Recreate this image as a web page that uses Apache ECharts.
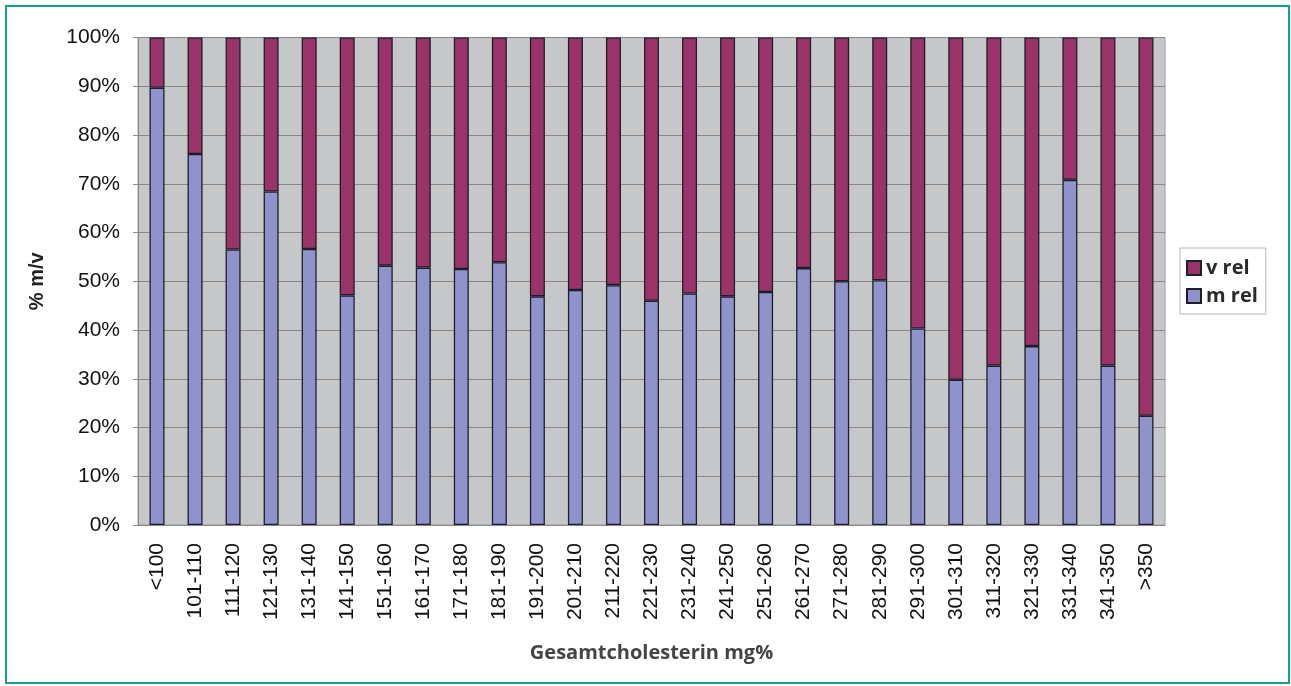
<!DOCTYPE html>
<html>
<head>
<meta charset="utf-8">
<script src="https://cdn.jsdelivr.net/npm/echarts@6/dist/echarts.min.js"></script>
<style>
  html, body { margin: 0; padding: 0; background: #fff; }
  #frame {
    position: absolute; left: 5px; top: 5px;
    width: 1281px; height: 675px;
    border: 2px solid #16a08f;
  }
  #chart { position: absolute; left: 0; top: 0; width: 1291px; height: 686px; }
</style>
</head>
<body>
<div id="frame"></div>
<div id="chart"></div>
<script>
// Kategorien (Gesamtcholesterin mg%)
const categories = ['<100', '101-110', '111-120', '121-130', '131-140', '141-150', '151-160',
  '161-170', '171-180', '181-190', '191-200', '201-210', '211-220', '221-230', '231-240',
  '241-250', '251-260', '261-270', '271-280', '281-290', '291-300', '301-310', '311-320',
  '321-330', '331-340', '341-350', '>350']
// m rel (unten, blau)
const mRel = [89.7, 76.1, 56.5, 68.4, 56.6, 47.1, 53.2, 52.8, 52.5, 53.9, 46.9, 48.2, 49.2, 46.0,
  47.5, 46.9, 47.8, 52.7, 50.0, 50.2, 40.3, 29.8, 32.7, 36.7, 70.8, 32.7, 22.4]
// v rel (oben, magenta)
const vRel = [10.3, 23.9, 43.5, 31.6, 43.4, 52.9, 46.8, 47.2, 47.5, 46.1, 53.1, 51.8, 50.8, 54.0,
  52.5, 53.1, 52.2, 47.3, 50.0, 49.8, 59.7, 70.2, 67.3, 63.3, 29.2, 67.3, 77.6]
const yTicks = [0, 10, 20, 30, 40, 50, 60, 70, 80, 90, 100]

const chart = echarts.init(document.getElementById('chart'))
const labelFont = 'Liberation Sans, Arial, sans-serif'
chart.setOption({
  animation: false,
  grid: {
    left: 138,
    right: 126,
    top: 37.5,
    bottom: 161,
    show: true,
    backgroundColor: '#c5c7c9',
    borderColor: '#9a9a9a',
    borderWidth: 1
  },
  legend: {
    orient: 'vertical',
    left: 1180,
    top: 248,
    data: ['v rel', 'm rel'],
    icon: 'rect',
    itemWidth: 14,
    itemHeight: 14,
    itemGap: 8,
    padding: [10, 8, 8, 6],
    borderColor: '#b8b8b8',
    borderWidth: 1,
    textStyle: {
      fontFamily: 'Open Sans, sans-serif',
      fontWeight: 'bold',
      fontSize: 20,
      color: '#2a2a2a'
    }
  },
  xAxis: {
    type: 'category',
    data: categories,
    name: 'Gesamtcholesterin mg%',
    nameLocation: 'middle',
    nameGap: 118,
    nameTextStyle: {
      fontFamily: 'Open Sans, sans-serif',
      fontWeight: 'bold',
      fontSize: 20,
      color: '#444'
    },
    axisLine: { lineStyle: { color: '#8a8a8a' } },
    axisTick: { length: 7, lineStyle: { color: '#8a8a8a' } },
    axisLabel: {
      rotate: 90,
      margin: 18,
      interval: 0,
      fontFamily: labelFont,
      fontSize: 21,
      color: '#111'
    }
  },
  yAxis: {
    type: 'value',
    min: yTicks[0],
    max: yTicks[yTicks.length - 1],
    interval: 10,
    name: '% m/v',
    nameLocation: 'middle',
    nameGap: 91,
    nameTextStyle: {
      fontFamily: labelFont,
      fontWeight: 'bold',
      fontSize: 20,
      color: '#222'
    },
    axisLine: { show: true, lineStyle: { color: '#8a8a8a' } },
    axisTick: { show: true, length: 5, lineStyle: { color: '#8a8a8a' } },
    axisLabel: {
      margin: 18,
      formatter: '{value}%',
      fontFamily: labelFont,
      fontSize: 21,
      color: '#111'
    },
    splitLine: { lineStyle: { color: '#888', width: 1 } }
  },
  series: [
    {
      name: 'm rel',
      type: 'bar',
      stack: 'rel',
      data: mRel,
      barWidth: 15,
      itemStyle: { color: '#8e93cc', borderColor: '#1e1e2a', borderWidth: 1.3 }
    },
    {
      name: 'v rel',
      type: 'bar',
      stack: 'rel',
      data: vRel,
      barWidth: 15,
      itemStyle: { color: '#9a3468', borderColor: '#1e1e2a', borderWidth: 1.3 }
    }
  ]
})
</script>
</body>
</html>
